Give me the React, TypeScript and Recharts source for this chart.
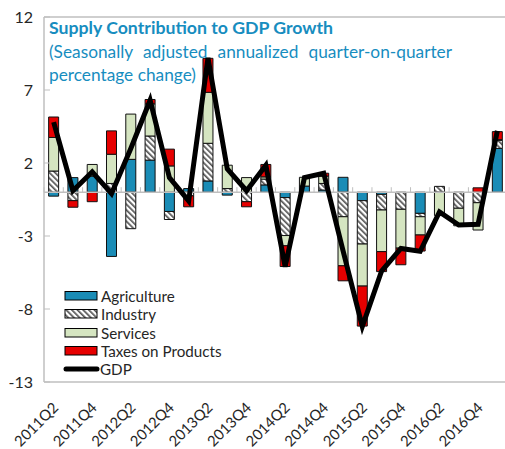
import React from 'react';
import { ComposedChart, Bar, Line, XAxis, YAxis, ReferenceLine } from 'recharts';

const quarters = [
  '2011Q2', '2011Q3', '2011Q4', '2012Q1', '2012Q2', '2012Q3', '2012Q4', '2013Q1',
  '2013Q2', '2013Q3', '2013Q4', '2014Q1', '2014Q2', '2014Q3', '2014Q4', '2015Q1',
  '2015Q2', '2015Q3', '2015Q4', '2016Q1', '2016Q2', '2016Q3', '2016Q4', '2017Q1',
];
const agriculture = [-0.27, 1.0, 1.1, -4.4, 2.25, 2.2, -1.32, 0.25, 0.77, -0.2, 0, 0.5, -0.37, 0.42, 0.15, 1.02, -0.58, -0.15, 0, -1.45, 0, 0, 0, 3.0];
const industry = [1.45, -0.58, 0, 0.6, -2.5, 1.65, -0.55, -0.25, 2.58, 0.25, -0.65, 0.4, -2.6, 0, 0.45, -1.68, -2.97, -1.07, -1.17, -0.23, 0.4, -1.1, -0.72, 0.55];
const services = [2.3, 0, 0.8, 2.0, 3.1, 2.2, 1.8, 0, 3.49, 1.6, 1.0, 0.15, -0.7, 0.6, 0.5, -3.36, -2.88, -2.85, -2.66, -1.25, -1.6, -1.2, -1.87, 0.05];
const taxes = [1.4, -0.45, -0.65, 1.6, 0, 0.3, 1.15, -0.75, 2.33, 0, -0.35, 0.85, -1.42, 0, 0.2, -1.03, -2.74, -1.37, -1.14, -1.1, 0, 0, 0.3, 0.55];
const gdp = [4.8, 0.1, 1.4, -0.1, 3.0, 6.3, 1.0, -0.6, 9.2, 1.6, 0.1, 1.85, -5.1, 1.0, 1.3, -4.0, -9.2, -5.4, -3.85, -4.05, -1.35, -2.25, -2.2, 4.2];
const yTicks = [-13, -8, -3, 2, 7, 12];

const data = quarters.map((q, i) => ({
  q,
  Agriculture: agriculture[i],
  Industry: industry[i],
  Services: services[i],
  Taxes: taxes[i],
  GDP: gdp[i],
}));

const BLUE = '#1a8cb6';
const GREEN = '#d5e5c1';
const RED = '#e60000';
const GRID = '#bfbfbf';
const TEXT = '#262626';
const TITLE = '#178dbf';
const FONT = 'Lato, "DejaVu Sans", sans-serif';

const YTick = (props: any) => {
  const { x, y, payload } = props;
  return (
    <g>
      <text x={x} y={y} dy={5.5} textAnchor="end" fontSize={16} fill={TEXT} fontFamily={FONT}>
        {payload.value}
      </text>
      <line x1={x + 11} x2={x + 17} y1={y} y2={y} stroke={GRID} strokeWidth={1} />
    </g>
  );
};

const XTick = (props: any) => {
  const { x, y, payload } = props;
  const px = x + 2;
  return (
    <text
      x={px}
      y={y}
      dy="0.35em"
      textAnchor="end"
      transform={`rotate(-45, ${px}, ${y})`}
      fontSize={14.8}
      fill={TEXT}
      fontFamily={FONT}
    >
      {payload.value}
    </text>
  );
};

const ZeroAxis = (props: any) => {
  const { x1, x2, y1 } = props;
  const n = data.length;
  const step = (x2 - x1) / n;
  const ticks = [];
  for (let k = 0; k <= n; k++) {
    const tx = x1 + k * step;
    ticks.push(<line key={k} x1={tx} x2={tx} y1={y1} y2={y1 - 5} stroke={GRID} strokeWidth={1} />);
  }
  return (
    <g>
      <line x1={x1} x2={x2} y1={y1} y2={y1} stroke={GRID} strokeWidth={1.5} />
      {ticks}
    </g>
  );
};

const Swatch = ({ fill }: { fill: string }) => (
  <svg width={34} height={10} style={{ display: 'block' }}>
    <defs>
      <pattern id="hatchLegend" patternUnits="userSpaceOnUse" width={4} height={4} patternTransform="rotate(-45)">
        <rect x={0} y={0} width={4} height={4} fill="#fff" />
        <rect x={0} y={0} width={1.7} height={4} fill="#555" />
      </pattern>
    </defs>
    <rect x={1} y={0.5} width={32} height={8.5} fill={fill} stroke="#000" strokeWidth={1} />
  </svg>
);

const legendItems = [
  { name: 'Agriculture', fill: BLUE },
  { name: 'Industry', fill: 'url(#hatchLegend)' },
  { name: 'Services', fill: GREEN },
  { name: 'Taxes on Products', fill: RED },
];

export default function App() {
  return (
    <div
      style={{
        position: 'absolute',
        left: 0,
        top: 0,
        width: 505,
        height: 449,
        overflow: 'hidden',
        background: '#fff',
        fontFamily: FONT,
      }}
    >
      <ComposedChart
        width={510}
        height={449}
        data={data}
        stackOffset="sign"
        barCategoryGap="24%"
        margin={{ top: 17, right: 3, bottom: 0, left: 0 }}
      >
        <defs>
          <pattern id="hatch" patternUnits="userSpaceOnUse" width={4} height={4} patternTransform="rotate(-45)">
            <rect x={0} y={0} width={4} height={4} fill="#fff" />
            <rect x={0} y={0} width={1.7} height={4} fill="#555" />
          </pattern>
        </defs>
        <XAxis
          dataKey="q"
          interval={1}
          height={67}
          axisLine={false}
          tickLine={false}
          tickSize={0}
          tickMargin={23}
          tick={<XTick />}
        />
        <YAxis
          domain={[-13, 12]}
          ticks={yTicks}
          width={44}
          axisLine={{ stroke: GRID, strokeWidth: 1.5 }}
          tickLine={false}
          tickSize={0}
          tickMargin={11}
          tick={<YTick />}
          interval={0}
          allowDataOverflow
        />
        <ReferenceLine y={12} stroke={GRID} strokeWidth={1.5} />
        <ReferenceLine y={-13} stroke={GRID} strokeWidth={1.5} />
        <ReferenceLine y={0} shape={<ZeroAxis />} />
        <Bar dataKey="Agriculture" stackId="s" fill={BLUE} stroke="#111" strokeWidth={1} isAnimationActive={false} />
        <Bar dataKey="Industry" stackId="s" fill="url(#hatch)" stroke="#111" strokeWidth={1} isAnimationActive={false} />
        <Bar dataKey="Services" stackId="s" fill={GREEN} stroke="#111" strokeWidth={1} isAnimationActive={false} />
        <Bar dataKey="Taxes" stackId="s" fill={RED} stroke="#111" strokeWidth={1} isAnimationActive={false} />
        <Line
          dataKey="GDP"
          type="linear"
          stroke="#000"
          strokeWidth={5}
          dot={false}
          activeDot={false}
          isAnimationActive={false}
        />
      </ComposedChart>

      <div
        style={{
          position: 'absolute',
          left: 49,
          top: 17,
          fontSize: 17.7,
          fontWeight: 700,
          color: TITLE,
          lineHeight: '22px',
          whiteSpace: 'nowrap',
        }}
      >
        Supply Contribution to GDP Growth
      </div>
      <div
        style={{
          position: 'absolute',
          left: 49,
          top: 40,
          width: 403,
          fontSize: 17.3,
          color: TITLE,
          lineHeight: '23px',
        }}
      >
        <div style={{ whiteSpace: 'nowrap' }}>
          <span style={{ display: 'inline-block', width: 403, textAlign: 'justify', textAlignLast: 'justify', whiteSpace: 'normal' }}>
            (Seasonally adjusted annualized quarter-on-quarter
          </span>
        </div>
        <div>percentage change)</div>
      </div>

      <div style={{ position: 'absolute', left: 64, top: 287 }}>
        {legendItems.map((it) => (
          <div key={it.name} style={{ display: 'flex', alignItems: 'center', height: 18.3 }}>
            <Swatch fill={it.fill} />
            <span style={{ marginLeft: 3, fontSize: 15.2, color: TEXT, lineHeight: '18px' }}>{it.name}</span>
          </div>
        ))}
        <div style={{ display: 'flex', alignItems: 'center', height: 18.3 }}>
          <svg width={37} height={10} style={{ display: 'block', marginLeft: -1 }}>
            <line x1={3} x2={34} y1={5} y2={5} stroke="#000" strokeWidth={5} strokeLinecap="round" />
          </svg>
          <span style={{ marginLeft: 0, fontSize: 15.2, color: TEXT, lineHeight: '18px' }}>GDP</span>
        </div>
      </div>
    </div>
  );
}
